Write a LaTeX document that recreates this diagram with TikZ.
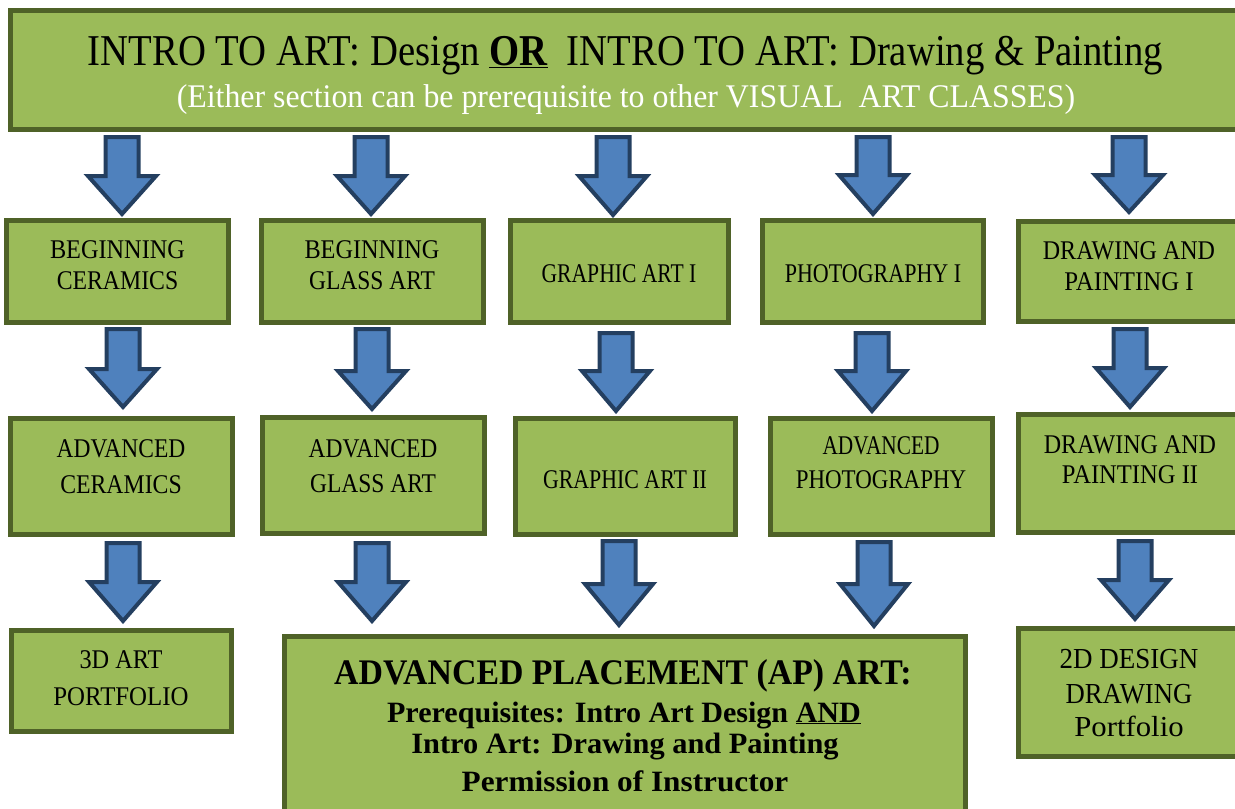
\documentclass[tikz,border=0pt]{standalone}
\usepackage{fontspec}
\setmainfont{Liberation Serif}
\usepackage{graphicx}
\definecolor{boxfill}{HTML}{9BBB59}
\definecolor{boxedge}{HTML}{4F6228}
\definecolor{arrfill}{HTML}{4F81BD}
\definecolor{arredge}{HTML}{243F60}
\newcommand\sx[2]{\scalebox{#1}[1]{#2}}
\newcommand\blockarrow[4]{% x, top, head base, tip
  \draw[barr] (#1-16.5,#2) -- (#1+16.5,#2) -- (#1+16.5,#3) -- (#1+34,#3) -- (#1,#4)
    -- (#1-34,#3) -- (#1-16.5,#3) -- cycle;}
\tikzset{
  gbox/.style={draw=boxedge, fill=boxfill, line width=5pt, rectangle, inner sep=0pt, outer sep=0pt},
  lbl/.style={anchor=base, inner sep=0pt, font=\fontsize{27}{31}\selectfont},
  lblb/.style={anchor=base, inner sep=0pt, font=\fontsize{29}{33}\selectfont},
  apl/.style={anchor=base, inner sep=0pt, font=\bfseries\fontsize{29.5}{33}\selectfont},
  barr/.style={draw=arredge, fill=arrfill, line width=4pt, miter limit=10}
}
\begin{document}
\begin{tikzpicture}[x=1pt,y=-1pt]
\useasboundingbox (0,0) rectangle (1235,809);
\clip (0,0) rectangle (1235,809);
% title
\node[gbox, minimum width=1227pt, minimum height=119pt] (title) at (624,70) {};
\node[anchor=base, inner sep=0pt, font=\fontsize{44}{48}\selectfont] (tl1) at (625.5,65)
  {\sx{0.88}{INTRO TO ART: Design \textbf{\underline{OR}}\ \ INTRO TO ART: Drawing \& Painting}};
\node[anchor=base, inner sep=0pt, text=white, font=\fontsize{33}{36}\selectfont] (tl2) at (626,107)
  {\sx{0.965}{(Either section can be prerequisite to other VISUAL\ \ ART CLASSES)}};
% row 1
\node[gbox, minimum width=222pt, minimum height=102pt] (b1) at (117.5,271.5) {};
\node[lbl] (b1a) at (117.5,258) {\sx{0.9}{BEGINNING}};
\node[lbl] (b1b) at (117.5,289) {\sx{0.88}{CERAMICS}};
\node[gbox, minimum width=222pt, minimum height=102pt] (b2) at (372.5,271.5) {};
\node[lbl] (b2a) at (372,258) {\sx{0.9}{BEGINNING}};
\node[lbl] (b2b) at (372,289) {\sx{0.87}{GLASS ART}};
\node[gbox, minimum width=218pt, minimum height=102pt] (b3) at (619.5,271.5) {};
\node[lbl] (b3a) at (619,282) {\sx{0.8}{GRAPHIC ART I}};
\node[gbox, minimum width=221pt, minimum height=102pt] (b4) at (873,271.5) {};
\node[lbl] (b4a) at (873,282) {\sx{0.815}{PHOTOGRAPHY I}};
\node[gbox, minimum width=219pt, minimum height=100pt] (b5) at (1128,271.5) {};
\node[lbl] (b5a) at (1129,259) {\sx{0.89}{DRAWING AND}};
\node[lbl] (b5b) at (1129,290) {\sx{0.92}{PAINTING I}};
% row 2
\node[gbox, minimum width=222pt, minimum height=116pt] (b6) at (121.5,476.5) {};
\node[lbl] (b6a) at (121,457) {\sx{0.87}{ADVANCED}};
\node[lbl] (b6b) at (121,493) {\sx{0.88}{CERAMICS}};
\node[gbox, minimum width=222pt, minimum height=116pt] (b7) at (373.5,475.5) {};
\node[lbl] (b7a) at (373,457) {\sx{0.87}{ADVANCED}};
\node[lbl] (b7b) at (373,492) {\sx{0.87}{GLASS ART}};
\node[gbox, minimum width=220pt, minimum height=116pt] (b8) at (625.5,476.5) {};
\node[lbl] (b8a) at (625,488) {\sx{0.81}{GRAPHIC ART II}};
\node[gbox, minimum width=222pt, minimum height=116pt] (b9) at (881.5,476.5) {};
\node[lbl] (b9a) at (881,454) {\sx{0.79}{ADVANCED}};
\node[lbl] (b9b) at (881,488) {\sx{0.85}{PHOTOGRAPHY}};
\node[gbox, minimum width=219pt, minimum height=118pt] (b10) at (1128,473.5) {};
\node[lbl] (b10a) at (1130,453) {\sx{0.89}{DRAWING AND}};
\node[lbl] (b10b) at (1130,483) {\sx{0.91}{PAINTING II}};
% row 3
\node[gbox, minimum width=220pt, minimum height=101pt] (b11) at (121.5,681) {};
\node[lbl] (b11a) at (121,668) {\sx{0.9}{3D ART}};
\node[lbl] (b11b) at (121,705) {\sx{0.92}{PORTFOLIO}};
\node[gbox, minimum width=681pt, minimum height=176pt] (ap) at (625,724.5) {};
\node[anchor=base, inner sep=0pt, font=\bfseries\fontsize{36}{40}\selectfont] (apa) at (623,684)
  {\sx{0.94}{ADVANCED PLACEMENT (AP) ART:}};
\node[apl] (apb) at (624,722)
  {\sx{1.02}{Prerequisites: Intro Art Design \underline{AND}}};
\node[apl] (apc) at (625,753)
  {\sx{1.03}{Intro Art: Drawing and Painting}};
\node[apl] (apd) at (625,791)
  {\sx{1.06}{Permission of Instructor}};
\node[gbox, minimum width=219pt, minimum height=128pt] (b13) at (1128,692.5) {};
\node[lblb] (b13a) at (1129,668) {\sx{0.93}{2D DESIGN}};
\node[lblb] (b13b) at (1129,703) {\sx{0.92}{DRAWING}};
\node[lblb] (b13c) at (1129,736) {\sx{1.06}{Portfolio}};
% arrows row 1
\blockarrow{122}{137}{176}{214}
\blockarrow{371}{137}{176}{214}
\blockarrow{613}{137}{176}{215}
\blockarrow{873}{137}{175}{214}
\blockarrow{1129}{137}{175}{212}
% arrows row 2
\blockarrow{123}{329}{369}{407}
\blockarrow{372}{329}{371}{409}
\blockarrow{616}{333}{371}{411}
\blockarrow{872}{333}{371}{411}
\blockarrow{1130}{329}{368}{407}
% arrows row 3
\blockarrow{123}{543}{582}{621}
\blockarrow{372}{543}{582}{621}
\blockarrow{619}{541}{584}{625}
\blockarrow{874}{542}{584}{626}
\blockarrow{1135}{541}{580}{619}
\end{tikzpicture}
\end{document}
